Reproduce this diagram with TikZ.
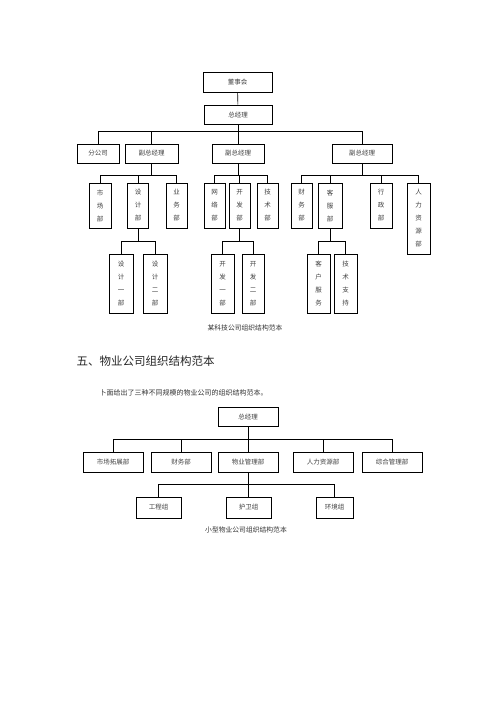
\documentclass[tikz,border=0pt]{standalone}
\usepackage{fontspec}
\newfontfamily\cjk{Noto Sans CJK SC}
\begin{document}
\begin{tikzpicture}[x=1pt, y=-1pt, line width=0.6pt,
	box/.style={draw, rectangle, inner sep=0pt, text=black!75,
		font=\cjk\fontsize{6.5}{13}\selectfont, align=center},
	hbox/.style={box, minimum height=19pt},
	vbox/.style={box, minimum height=45pt, minimum width=21pt},
	lbox/.style={box, minimum height=59pt, minimum width=23pt},
	heavy/.style={line width=0.9pt},
	caption/.style={text=black!80, font=\cjk\fontsize{6.8}{8}\selectfont}]
	\useasboundingbox (0,0) rectangle (500,707);

	% first chart
	\node[hbox, minimum width=69pt, minimum height=20pt] (DSH) at (237.5,82) {董事会};
	\node[hbox, minimum width=68pt] (ZJL) at (238,114.5) {总经理};
	\node[hbox, minimum width=42pt] (FGS) at (98,153.5) {分公司};
	\node[hbox, minimum width=53pt] (FZ1) at (151.5,153.5) {副总经理};
	\node[hbox, minimum width=52pt] (FZ2) at (238,153.5) {副总经理};
	\node[hbox, heavy, minimum width=60pt] (FZ3) at (362,153.5) {副总经理};

	\node[vbox, minimum width=22pt] (SC) at (100,205.5) {市\\场\\部};
	\node[vbox] (SJ) at (138,205.5) {设\\计\\部};
	\node[vbox, heavy] (YW) at (176.5,205.5) {业\\务\\部};
	\node[vbox] (WL) at (214.5,205.5) {网\\络\\部};
	\node[vbox] (KF) at (239.5,205.5) {开\\发\\部};
	\node[vbox, heavy] (JS) at (267.5,205.5) {技\\术\\部};
	\node[vbox] (CW) at (301.5,205.5) {财\\务\\部};
	\node[vbox, minimum width=24pt] (KFB) at (330,205.5) {客\\服\\部};
	\node[vbox, minimum width=22pt] (XZ) at (381,205.5) {行\\政\\部};
	\node[vbox, heavy, minimum width=23pt, minimum height=71pt] (RL) at (418.5,218.5) {人\\力\\资\\源\\部};

	\node[lbox, minimum width=24pt] (SJ1) at (121,283.5) {设\\计\\一\\部};
	\node[lbox, minimum width=24pt] (SJ2) at (155,283.5) {设\\计\\二\\部};
	\node[lbox, heavy] (KF1) at (222.5,283.5) {开\\发\\一\\部};
	\node[lbox, heavy, minimum width=22pt] (KF2) at (253,283.5) {开\\发\\二\\部};
	\node[lbox] (KH) at (318.5,283.5) {客\\户\\服\\务};
	\node[lbox] (JZ) at (345.5,283.5) {技\\术\\支\\持};

	\node[caption] (CAP1) at (245,328) {某科技公司组织结构范本};

	\coordinate (b1) at (0,131);
	\coordinate (b2) at (0,175);
	\coordinate (b3) at (0,241);
	\draw (DSH) -- (ZJL);
	\draw (ZJL.south) -- (ZJL.south |- b1);
	\foreach \n in {FGS,FZ1,FZ2,FZ3}
		\draw (ZJL.south |- b1) -| (\n.north);
	\draw (FZ1.south) -- (FZ1.south |- b2);
	\foreach \n in {SC,SJ,YW}
		\draw (FZ1.south |- b2) -| (\n.north);
	\draw (FZ2.south) -- (FZ2.south |- b2);
	\foreach \n in {WL,KF,JS}
		\draw (FZ2.south |- b2) -| (\n.north);
	\draw (FZ3.south) -- (FZ3.south |- b2);
	\foreach \n in {CW,KFB,XZ,RL}
		\draw (FZ3.south |- b2) -| (\n.north);
	\draw (SJ.south) -- (SJ.south |- b3);
	\foreach \n in {SJ1,SJ2}
		\draw (SJ.south |- b3) -| (\n.north);
	\draw (KF.south) -- (KF.south |- b3);
	\foreach \n in {KF1,KF2}
		\draw (KF.south |- b3) -| (\n.north);
	\draw (KFB.south) -- (KFB.south |- b3);
	\foreach \n in {KH,JZ}
		\draw (KFB.south |- b3) -| (\n.north);

	% heading and text
	\node[anchor=west, text=black!85, font=\cjk\fontsize{11.5}{13}\selectfont] (H5) at (73,361) {五、物业公司组织结构范本};
	\node[anchor=west, text=black!80, font=\cjk\fontsize{7}{8}\selectfont] (TXT) at (96,393) {卜面给出了三种不同规模的物业公司的组织结构范本。};

	% second chart
	\node[hbox, minimum width=60pt] (ZJL2) at (248,416.5) {总经理};
	\node[hbox, minimum width=60pt, minimum height=20pt] (SCTZ) at (113,462) {市场拓展部};
	\node[hbox, heavy, minimum width=60pt, minimum height=20pt] (CWB) at (181,462) {财务部};
	\node[hbox, minimum width=60pt, minimum height=20pt] (WYGL) at (248,462) {物业管理部};
	\node[hbox, minimum width=60pt, minimum height=20pt] (RLZY) at (323,462) {人力资源部};
	\node[hbox, heavy, minimum width=60pt, minimum height=20pt] (ZHGL) at (392,462) {综合管理部};
	\node[hbox, heavy, minimum width=45pt, minimum height=21pt] (GCZ) at (158.5,507.5) {工程组};
	\node[hbox, heavy, minimum width=45pt, minimum height=21pt] (HWZ) at (248.5,507.5) {护卫组};
	\node[hbox, heavy, minimum width=37pt, minimum height=21pt] (HJZ) at (334.5,507.5) {环境组};

	\node[caption] (CAP2) at (246,530) {小型物业公司组织结构范本};

	\coordinate (b4) at (0,439);
	\coordinate (b5) at (0,484);
	\draw (ZJL2.south) -- (ZJL2.south |- b4);
	\foreach \n in {SCTZ,CWB,WYGL,RLZY,ZHGL}
		\draw (ZJL2.south |- b4) -| (\n.north);
	\draw (WYGL.south) -- (WYGL.south |- b5);
	\foreach \n in {GCZ,HWZ,HJZ}
		\draw (WYGL.south |- b5) -| (\n.north);
\end{tikzpicture}
\end{document}
